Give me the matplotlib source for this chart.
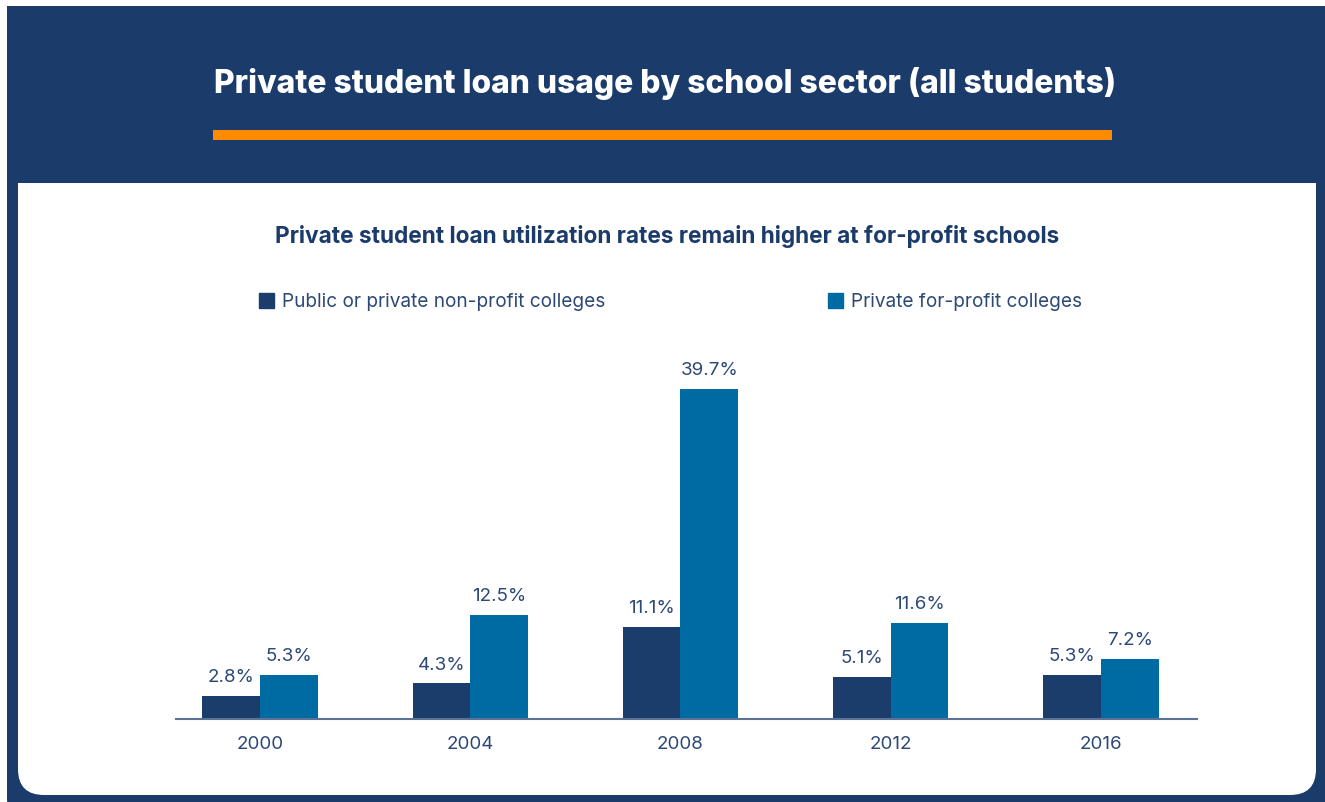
import matplotlib
matplotlib.use("Agg")
import matplotlib.pyplot as plt
from matplotlib.patches import FancyBboxPatch, Rectangle, Patch
import numpy as np

years = ["2000", "2004", "2008", "2012", "2016"]
nonprofit = [2.8, 4.3, 11.1, 5.1, 5.3]
forprofit = [5.3, 12.5, 39.7, 11.6, 7.2]
series_names = ["Public or private non-profit colleges", "Private for-profit colleges"]
title = "Private student loan usage by school sector (all students)"
subtitle = "Private student loan utilization rates remain higher at for-profit schools"

NAVY = "#1b3b6b"
DARK = "#1b3d6c"
LIGHT = "#006ba3"
ORANGE = "#ff8c00"
TXT = "#2c4876"

plt.rcParams['font.family'] = ['Inter', 'DejaVu Sans']

W, H = 1325, 802
fig = plt.figure(figsize=(W / 100, H / 100), dpi=100)
fig.patch.set_facecolor("white")

# decoration layer in pixel coordinates
bg = fig.add_axes([0, 0, 1, 1])
bg.set_xlim(0, W)
bg.set_ylim(H, 0)
bg.axis("off")
bg.add_patch(FancyBboxPatch((7, 6), W + 40, H + 20, boxstyle="round,pad=0,rounding_size=30",
                            fc=NAVY, ec="none"))
bg.add_patch(Rectangle((7, 6), W, 100, fc=NAVY, ec="none"))
bg.add_patch(FancyBboxPatch((18, 183), 1316 - 18, 795 - 183, boxstyle="round,pad=0,rounding_size=26",
                            fc="white", ec="none"))
bg.add_patch(Rectangle((18, 183), 1316 - 18, 60, fc="white", ec="none"))
bg.add_patch(Rectangle((213, 130), 1112 - 213, 10, fc=ORANGE, ec="none"))
bg.text(665, 83, title, color="white", fontsize=22.9, fontweight="heavy", ha="center", va="center")
bg.text(667, 236, subtitle, color=NAVY, fontsize=16.3, fontweight="bold", ha="center", va="center")

# chart axes
x0, x1, ybase = 176, 1197, 719
ppu = 8.31
ytop = 40
ax = fig.add_axes([x0 / W, (H - ybase) / H, (x1 - x0) / W, ytop * ppu / H])
ax.set_facecolor("none")
x = np.arange(len(years))
bw = 0.2745
b1 = ax.bar(x - bw / 2, nonprofit, bw, color=DARK, label=series_names[0])
b2 = ax.bar(x + bw / 2, forprofit, bw, color=LIGHT, label=series_names[1])
for bars, vals in ((b1, nonprofit), (b2, forprofit)):
    for r, v in zip(bars, vals):
        ax.annotate(f"{v:.1f}%", (r.get_x() + r.get_width() / 2, v), xytext=(0, 7),
                    textcoords="offset points", ha="center", va="bottom", fontsize=13.5, color=TXT)
ax.set_xlim(-0.3995, 4.4566)
ax.set_ylim(0, ytop)
ax.set_xticks(x)
ax.set_xticklabels(years, fontsize=13.5, color=TXT)
ax.tick_params(axis="x", length=0, pad=12)
ax.set_yticks([])
for s in ("top", "right", "left"):
    ax.spines[s].set_visible(False)
ax.spines["bottom"].set_color("#5b7396")
ax.spines["bottom"].set_linewidth(1.5)

handles = [Patch(color=DARK), Patch(color=LIGHT)]
fig.legend(handles, series_names, loc="center left", bbox_to_anchor=(259 / W, 1 - 302 / H),
           ncol=2, frameon=False, fontsize=13.7, labelcolor=TXT, handlelength=0.8, handleheight=0.8,
           handletextpad=0.4, columnspacing=11.7, borderpad=0, borderaxespad=0)

fig.savefig("out.png", dpi=100, facecolor=fig.get_facecolor())
